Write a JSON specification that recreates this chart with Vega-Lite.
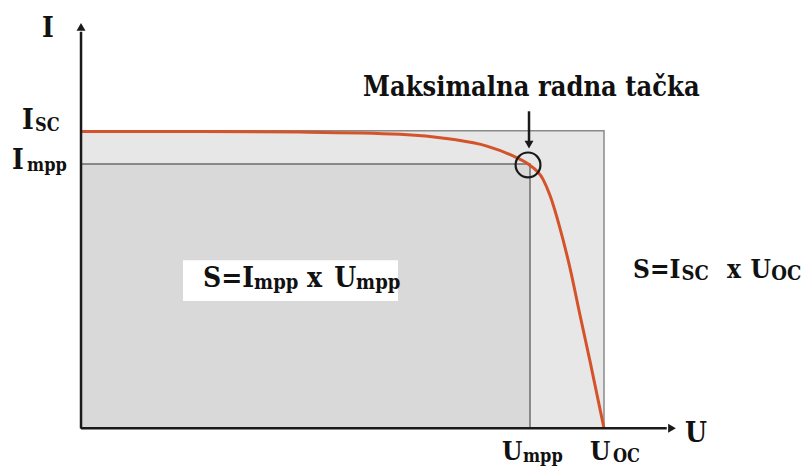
{
  "$schema": "https://vega.github.io/schema/vega-lite/v6.json",
  "width": 812,
  "height": 466,
  "autosize": {"type": "fit", "contains": "padding"},
  "padding": 0,
  "background": "white",
  "view": {"stroke": null},
  "datasets": {
    "panel": [{"area": "Isc x Uoc", "U": 0, "U2": 100, "I": 0, "I2": 100}],
    "mpp": [{"area": "Impp x Umpp", "U": 0, "U2": 85.85, "I": 0, "I2": 88.8}],
    "box": [{"U": 19.5, "U2": 60.61, "I": 42.74, "I2": 56.43}],
    "curve": [
      {"U": 0, "I": 99.7}, {"U": 22.75, "I": 99.7}, {"U": 41.9, "I": 99.5},
      {"U": 61.0, "I": 98.8}, {"U": 70.6, "I": 97.2}, {"U": 77.6, "I": 94.8},
      {"U": 82.6, "I": 91.5}, {"U": 85.5, "I": 88.8}, {"U": 88.3, "I": 83.8},
      {"U": 89.7, "I": 78.1}, {"U": 91.6, "I": 67.1}, {"U": 93.5, "I": 53.8},
      {"U": 95.4, "I": 38.1}, {"U": 97.3, "I": 22.7}, {"U": 100, "I": 0}
    ],
    "axes": [
      {"axis": "I", "U": 0, "U2": 0, "I": 0, "I2": 133.2},
      {"axis": "U", "U": 0, "U2": 112.0, "I": 0, "I2": 0},
      {"axis": "marker", "U": 85.66, "U2": 85.66, "I": 106.5, "I2": 96.5}
    ],
    "heads": [
      {"dir": "up", "U": 0, "I": 134.9},
      {"dir": "right", "U": 113.0, "I": 0},
      {"dir": "down", "U": 85.66, "I": 95.3}
    ],
    "mppPoint": [{"U": 85.47, "I": 88.48}],
    "mainText": [
      {"t": "I", "U": -7.46, "I": 131.55},
      {"t": "I", "U": -11.28, "I": 100.5},
      {"t": "I", "U": -13.19, "I": 87.1},
      {"t": "U", "U": 115.49, "I": -4.67},
      {"t": "S=I", "U": 23.33, "I": 47.41},
      {"t": "x", "U": 43.2, "I": 47.41},
      {"t": "U", "U": 48.4, "I": 47.41}
    ],
    "smallMainText": [
      {"t": "U", "U": 80.5, "I": -10.68},
      {"t": "U", "U": 97.32, "I": -10.68},
      {"t": "S=I", "U": 105.54, "I": 50.42},
      {"t": "x", "U": 123.5, "I": 50.42},
      {"t": "U", "U": 128.0, "I": 50.42}
    ],
    "subText": [
      {"t": "SC", "U": -8.8, "I": 99.83},
      {"t": "mpp", "U": -10.33, "I": 86.48},
      {"t": "mpp", "U": 84.5, "I": -11.35},
      {"t": "OC", "U": 101.7, "I": -11.35}
    ],
    "bigSubText": [
      {"t": "mpp", "U": 33.1, "I": 46.74},
      {"t": "mpp", "U": 52.6, "I": 46.74},
      {"t": "SC", "U": 114.8, "I": 49.75},
      {"t": "OC", "U": 132.0, "I": 49.75}
    ],
    "title": [{"t": "Maksimalna radna tačka", "U": 53.92, "I": 111.52}]
  },
  "encoding": {
    "x": {"field": "U", "type": "quantitative", "scale": {"domain": [-15.49, 139.77], "nice": false, "zero": false}, "axis": null},
    "y": {"field": "I", "type": "quantitative", "scale": {"domain": [-11.69, 143.9], "nice": false, "zero": false}, "axis": null}
  },
  "layer": [
    {
      "data": {"name": "panel"},
      "mark": {"type": "rect", "fill": "#e7e7e7", "stroke": "#8a8a8a", "strokeWidth": 1.5, "clip": false},
      "encoding": {"x2": {"field": "U2"}, "y2": {"field": "I2"}}
    },
    {
      "data": {"name": "mpp"},
      "mark": {"type": "rect", "fill": "#d9d9d9", "stroke": "#6e6e6e", "strokeWidth": 1.5},
      "encoding": {"x2": {"field": "U2"}, "y2": {"field": "I2"}}
    },
    {
      "data": {"name": "box"},
      "mark": {"type": "rect", "fill": "white"},
      "encoding": {"x2": {"field": "U2"}, "y2": {"field": "I2"}}
    },
    {
      "data": {"name": "curve"},
      "mark": {"type": "line", "color": "#d4532a", "strokeWidth": 3, "interpolate": "monotone"},
      "encoding": {}
    },
    {
      "data": {"name": "axes"},
      "mark": {"type": "rule", "color": "#1a1a1a", "strokeWidth": 2.5},
      "encoding": {"x2": {"field": "U2"}, "y2": {"field": "I2"}}
    },
    {
      "data": {"name": "heads"},
      "mark": {"type": "point", "filled": true, "color": "#1a1a1a", "size": 80, "opacity": 1},
      "encoding": {
        "shape": {"field": "dir", "type": "nominal", "scale": {"domain": ["up", "right", "down"], "range": ["triangle-up", "triangle-right", "triangle-down"]}, "legend": null}
      }
    },
    {
      "data": {"name": "mppPoint"},
      "mark": {"type": "point", "shape": "circle", "filled": false, "stroke": "#1a1a1a", "strokeWidth": 2.2, "size": 616, "opacity": 1}
    },
    {
      "data": {"name": "mainText"},
      "mark": {"type": "text", "font": "DejaVu Serif Condensed", "fontSize": 28, "fontWeight": "bold", "align": "left", "baseline": "alphabetic", "color": "#111111"},
      "encoding": {"text": {"field": "t"}}
    },
    {
      "data": {"name": "smallMainText"},
      "mark": {"type": "text", "font": "DejaVu Serif Condensed", "fontSize": 26, "fontWeight": "bold", "align": "left", "baseline": "alphabetic", "color": "#111111"},
      "encoding": {"text": {"field": "t"}}
    },
    {
      "data": {"name": "subText"},
      "mark": {"type": "text", "font": "DejaVu Serif Condensed", "fontSize": 18, "fontWeight": "bold", "align": "left", "baseline": "alphabetic", "color": "#111111"},
      "encoding": {"text": {"field": "t"}}
    },
    {
      "data": {"name": "bigSubText"},
      "mark": {"type": "text", "font": "DejaVu Serif Condensed", "fontSize": 20, "fontWeight": "bold", "align": "left", "baseline": "alphabetic", "color": "#111111"},
      "encoding": {"text": {"field": "t"}}
    },
    {
      "data": {"name": "title"},
      "mark": {"type": "text", "font": "DejaVu Serif Condensed", "fontSize": 27, "fontWeight": "bold", "align": "left", "baseline": "alphabetic", "color": "#111111"},
      "encoding": {"text": {"field": "t"}}
    }
  ]
}
